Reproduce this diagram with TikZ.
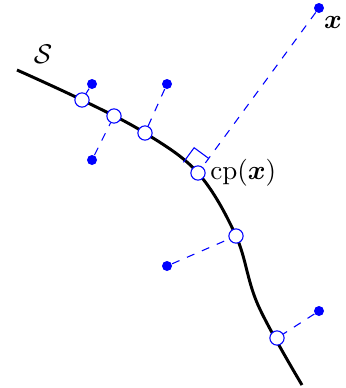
\documentclass[tikz,border=0pt]{standalone}
\usepackage{amsmath}
\usepackage{amssymb}
\usepackage{bm}
\usetikzlibrary{angles,calc}
\tikzset{
    proj/.style={circle,draw=blue,fill=white,inner sep=0pt,minimum size=1.85mm},
    pt/.style={circle,fill=blue,inner sep=0pt,minimum size=1.3mm},
    link/.style={blue,dashed}
}

\begin{document}
\begin{tikzpicture}[x=0.13mm,y=-0.13mm]
    \useasboundingbox (0,0) rectangle (346,388);
    \draw[line width=1.1pt] plot[smooth,tension=0.6] coordinates
        {(17,70) (82,100) (145,133) (198,173) (236,236) (258,305) (302,385)};
    \node at (43,54) {$\mathcal{S}$};
    \foreach \n/\p/\q in {1/{(82,100)}/{(92,84)}, 2/{(114,116)}/{(92,160)},
        3/{(145,133)}/{(167,84)}, 5/{(236,236)}/{(167,266)}, 6/{(277,338)}/{(319,311)}}{
        \node[proj] (p\n) at \p {};
        \node[pt] (q\n) at \q {};
        \draw[link] (q\n) -- (p\n);
    }
    \node[proj] (cp) at (198,173) {};
    \node[pt] (x) at (319,8) {};
    \node at (333,22) {$\bm{x}$};
    \node[right,inner sep=1.5pt] at (cp.east) {$\mathrm{cp}(\bm{x})$};
    \coordinate (t) at (183,162);
    \draw[link] (x) -- (cp);
    \draw[blue] pic[draw=blue,angle radius=2.35mm] {right angle=t--cp--x};
\end{tikzpicture}
\end{document}
